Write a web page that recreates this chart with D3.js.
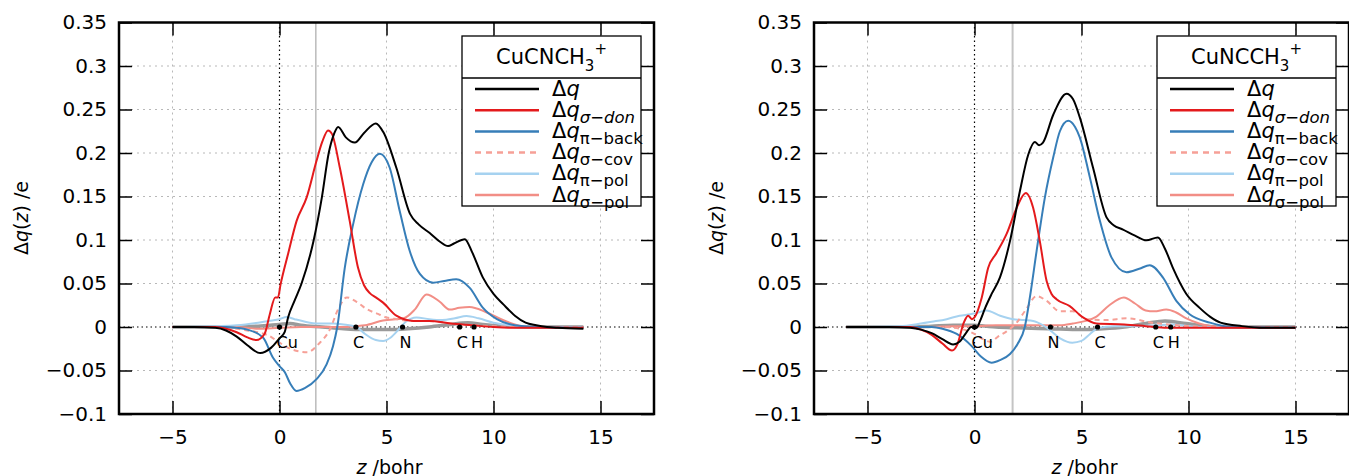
<!DOCTYPE html>
<html>
<head>
<meta charset="utf-8">
<script src="https://cdn.jsdelivr.net/npm/d3@7"></script>
<style>
body{margin:0;background:#fff}
text{font-family:"DejaVu Sans",sans-serif}
</style>
</head>
<body>
<svg id="chart" width="1349" height="476"></svg>
<script>
// ticks
let xTicks=[-5,0,5,10,15];
let yTicks=[-0.1,-0.05,0,0.05,0.1,0.15,0.2,0.25,0.3,0.35];
let yTickLabels=["\u22120.1","\u22120.05","0","0.05","0.1","0.15","0.2","0.25","0.3","0.35"];

// legend
let legendSubs=["","\u03c3\u2212don","\u03c0\u2212back","\u03c3\u2212cov","\u03c0\u2212pol","\u03c3\u2212pol"];

// CuCNCH3+ (left)
let leftDq=[[-5,0],[-4,0],[-3,-0.001],[-2.5,-0.004],[-2,-0.011],[-1.5,-0.021],[-0.9,-0.030],[-0.4,-0.024],[0,-0.013],[0.24,-0.006],[0.4,0.011],[0.7,0.03],[1.03,0.05],[1.6,0.1],[1.98,0.149],[2.3,0.2],[2.55,0.222],[2.74,0.230],[3.1,0.218],[3.52,0.212],[3.95,0.223],[4.5,0.234],[4.85,0.224],[5.46,0.183],[6.1,0.13],[6.5,0.118],[7.02,0.108],[7.5,0.098],[7.88,0.093],[8.15,0.096],[8.66,0.101],[9.0,0.086],[9.5,0.057],[10.0,0.038],[10.46,0.026],[11,0.013],[11.5,0.005],[12,0.002],[12.5,0.0],[13,-0.001],[14.2,-0.002]];
let leftDon=[[-5,0],[-3,0],[-2.5,-0.002],[-2,-0.006],[-1.5,-0.012],[-1.08,-0.015],[-0.7,-0.008],[-0.45,0.015],[-0.2,0.034],[-0.07,0.034],[0.05,0.049],[0.4,0.084],[0.8,0.122],[1.27,0.149],[1.73,0.191],[2.0,0.213],[2.27,0.226],[2.45,0.222],[2.82,0.183],[3.28,0.122],[3.67,0.068],[3.95,0.048],[4.22,0.039],[4.5,0.034],[4.84,0.028],[5.46,0.013],[6.26,0.007],[7,0.007],[8,0.004],[9,0.002],[10,0.0],[11,-0.001],[14.2,-0.001]];
let leftBack=[[-5,0],[-2.5,0],[-2,-0.001],[-1.5,-0.003],[-0.77,-0.012],[-0.31,-0.035],[0,-0.045],[0.25,-0.052],[0.5,-0.065],[0.79,-0.0735],[1.2,-0.070],[1.73,-0.060],[2.2,-0.043],[2.5,-0.022],[2.7,0],[3.05,0.068],[3.44,0.118],[3.91,0.164],[4.3,0.189],[4.69,0.199],[5.15,0.183],[5.62,0.133],[6.09,0.087],[6.56,0.061],[7.18,0.051],[7.7,0.053],[8.26,0.055],[8.89,0.045],[9.51,0.022],[10.16,0.009],[11,0.002],[12,0],[14.2,-0.001]];
let leftCov=[[-5,0],[-2.5,0],[-2,-0.002],[-1.5,-0.004],[-1,-0.006],[-0.5,-0.010],[0,-0.018],[0.5,-0.025],[0.9,-0.028],[1.3,-0.029],[1.85,-0.019],[2.35,-0.003],[2.75,0.021],[3.15,0.034],[3.6,0.029],[4.05,0.021],[4.6,0.015],[5.0,0.011],[5.5,0.009],[6.2,0.007],[7,0.007],[8,0.004],[9,0.002],[10,0.001],[11,0],[14.2,0]];
let leftPiPol=[[-5,0],[-3,0.001],[-2,0.002],[-1,0.005],[-0.5,0.007],[0,0.009],[0.33,0.0115],[0.7,0.009],[1.2,0.006],[1.8,0.004],[2.5,0.004],[3.0,0.003],[3.6,0.0],[4.0,-0.008],[4.5,-0.015],[4.84,-0.016],[5.2,-0.012],[5.6,-0.002],[5.9,0.006],[6.4,0.011],[7,0.009],[7.6,0.008],[8.2,0.010],[8.74,0.0126],[9.3,0.010],[10,0.005],[10.8,0.002],[12,0],[14.2,0]];
let leftSigPol=[[-5,0],[-2,0],[-1,-0.002],[0,-0.001],[1,0],[3,0],[3.5,0.001],[4,0.002],[4.84,0.0075],[5.8,0.01],[6.32,0.02],[6.87,0.0375],[7.49,0.029],[7.95,0.020],[8.4,0.022],[8.88,0.023],[9.66,0.017],[10.44,0.008],[11,0.003],[11.7,0.0],[14.2,0]];
let leftGrey=[[-5,0],[-2,0],[-1,0.001],[0,0.003],[0.5,0.004],[1,0.002],[2,0],[3,-0.002],[4,-0.003],[5,-0.003],[6,-0.002],[7,0],[8,0.003],[8.8,0.005],[9.5,0.003],[10.5,0.001],[11.5,0],[14.2,0]];
let leftAtoms=[["Cu",0],["C",3.57],["N",5.75],["C",8.42],["H",9.09]];

// CuNCCH3+ (right)
let rightDq=[[-6,0],[-4,0],[-3,-0.001],[-2.5,-0.003],[-2,-0.007],[-1.5,-0.014],[-1.0,-0.020],[-0.7,-0.017],[-0.4,-0.007],[-0.15,0.0],[0.1,-0.001],[0.26,0.007],[0.5,0.022],[0.8,0.038],[1.19,0.057],[1.66,0.099],[2.12,0.156],[2.51,0.198],[2.82,0.2126],[3.02,0.209],[3.2,0.212],[3.68,0.244],[4.3,0.268],[4.6,0.262],[4.92,0.241],[5.54,0.183],[6.17,0.126],[6.5,0.117],[6.94,0.112],[7.5,0.105],[8.03,0.0996],[8.57,0.103],[8.9,0.09],[9.27,0.068],[9.9,0.038],[10.52,0.022],[11,0.012],[11.5,0.005],[12.5,0.001],[13.5,-0.001],[15,-0.001]];
let rightDon=[[-6,0],[-3,0],[-2.5,-0.003],[-2,-0.009],[-1.5,-0.019],[-1.05,-0.027],[-0.8,-0.02],[-0.5,0.005],[-0.3,0.013],[-0.12,0.009],[0.0,0.011],[0.34,0.034],[0.64,0.068],[1.03,0.085],[1.5,0.107],[1.97,0.137],[2.4,0.154],[2.74,0.137],[3.05,0.099],[3.37,0.053],[3.6,0.038],[3.83,0.032],[4.45,0.024],[5.07,0.011],[5.7,0.004],[7,0.003],[8,0.001],[9,-0.001],[15,-0.001]];
let rightBack=[[-6,0],[-2,0],[-1.5,-0.002],[-0.83,-0.008],[-0.13,-0.022],[0.3,-0.034],[0.8,-0.041],[1.2,-0.038],[1.66,-0.031],[2.0,-0.020],[2.35,0],[2.6,0.036],[2.9,0.087],[3.29,0.149],[3.68,0.195],[3.99,0.225],[4.38,0.237],[4.7,0.23],[4.92,0.218],[5.39,0.172],[5.86,0.122],[6.4,0.080],[7.1,0.063],[7.7,0.067],[8.19,0.071],[8.8,0.057],[9.43,0.030],[10.05,0.0146],[11,0.005],[12,0.0],[15,-0.001]];
let rightCov=[[-6,0],[-1.5,0],[-0.5,-0.003],[0,-0.008],[0.4,-0.014],[0.75,-0.017],[1.1,-0.011],[1.5,-0.005],[1.97,0.005],[2.43,0.021],[2.9,0.0356],[3.37,0.030],[3.99,0.018],[4.6,0.018],[5.23,0.009],[6.17,0.008],[7.1,0.010],[8.3,0.005],[9.5,0.002],[11,0],[15,0]];
let rightPiPol=[[-6,0],[-3.5,0.001],[-2.5,0.004],[-2,0.006],[-1.3,0.009],[-0.7,0.013],[-0.2,0.0146],[0.1,0.016],[0.55,0.019],[1.2,0.013],[1.81,0.009],[2.3,0.008],[2.74,0.007],[3.2,0.002],[3.5,-0.003],[4.0,-0.013],[4.57,-0.018],[5.0,-0.016],[5.4,-0.008],[5.8,-0.001],[6.5,0.001],[7.5,0.001],[8.5,0.002],[9.2,0.003],[10,0.001],[11,0],[15,0]];
let rightSigPol=[[-6,0],[-2,0],[-1,0.001],[0,0.001],[1,0.002],[4,0.002],[4.6,0.004],[5.2,0.007],[5.7,0.012],[6.3,0.025],[6.98,0.034],[7.5,0.027],[8.0,0.019],[8.4,0.018],[8.96,0.020],[9.4,0.017],[9.9,0.01],[10.5,0.004],[11.5,0],[15,0]];
let rightGrey=[[-6,0],[-3,0],[-2,0.001],[-1,0.002],[0,0.002],[0.5,0.001],[1,0],[2,-0.001],[3.5,-0.002],[5,-0.003],[6,-0.002],[7,0],[8,0.004],[8.9,0.007],[9.6,0.005],[10.5,0.002],[11.5,0],[15,0]];
let rightAtoms=[["Cu",0],["N",3.55],["C",5.75],["C",8.47],["H",9.17]];

let colors=["#000000","#e41a1c","#377eb8","#f6a097","#a6d2f0","#f28e86"];

let svg=d3.select("#chart");

function drawPanel(p){
  let top=22.5,bottom=414,width=535;
  let xScale=d3.scaleLinear().domain([-7.5,17.5]).range([p.left,p.left+width]);
  let yScale=d3.scaleLinear().domain([-0.1,0.35]).range([bottom,top]);
  let g=svg.append("g");

  // grid
  g.append("g").selectAll("line").data(xTicks.filter(d=>d!==0)).enter().append("line")
    .attr("x1",d=>xScale(d)).attr("x2",d=>xScale(d)).attr("y1",top).attr("y2",bottom)
    .attr("stroke","#b8b8b8").attr("stroke-width",1).attr("stroke-dasharray","2,4");
  g.append("g").selectAll("line").data(yTicks.filter(d=>d!==0)).enter().append("line")
    .attr("x1",p.left).attr("x2",p.left+width).attr("y1",d=>yScale(d)).attr("y2",d=>yScale(d))
    .attr("stroke","#b8b8b8").attr("stroke-width",1).attr("stroke-dasharray","2,4");

  // zero lines
  g.append("line").attr("x1",xScale(0)).attr("x2",xScale(0)).attr("y1",top).attr("y2",bottom)
    .attr("stroke","#000").attr("stroke-width",1.2).attr("stroke-dasharray","1.5,3");
  g.append("line").attr("x1",p.left).attr("x2",p.left+width).attr("y1",yScale(0)).attr("y2",yScale(0))
    .attr("stroke","#000").attr("stroke-width",1.2).attr("stroke-dasharray","1.5,3");

  // marker line
  g.append("line").attr("x1",xScale(p.mark)).attr("x2",xScale(p.mark)).attr("y1",top).attr("y2",bottom)
    .attr("stroke",p.markColor).attr("stroke-width",p.markWidth);

  let line=d3.line().x(d=>xScale(d[0])).y(d=>yScale(d[1])).curve(d3.curveMonotoneX);

  g.append("path").attr("d",line(p.grey)).attr("fill","none").attr("stroke","#9a9a9a").attr("stroke-width",3.5);

  let order=[5,4,3,2,1,0];
  order.forEach(function(i){
    g.append("path").attr("d",line(p.series[i])).attr("fill","none")
      .attr("stroke",colors[i]).attr("stroke-width",2)
      .attr("stroke-dasharray",i===3?"5,4":null);
  });

  // atoms
  g.append("g").selectAll("circle").data(p.atoms).enter().append("circle")
    .attr("cx",d=>xScale(d[1])).attr("cy",yScale(0)).attr("r",2.6).attr("fill","#000");
  g.append("g").selectAll("text").data(p.atoms).enter().append("text")
    .attr("x",d=>xScale(d[1])-3).attr("y",yScale(0)+20.5)
    .attr("font-size","16px").text(d=>d[0]);

  // frame
  g.append("rect").attr("x",p.left).attr("y",top).attr("width",width).attr("height",bottom-top)
    .attr("fill","none").attr("stroke","#000").attr("stroke-width",2.5);

  // axes
  let ax=g.append("g").attr("transform","translate(0,"+bottom+")")
    .call(d3.axisBottom(xScale).tickValues(xTicks).tickSize(-13).tickPadding(16).tickFormat(d3.format("d")));
  let ay=g.append("g").attr("transform","translate("+p.left+",0)")
    .call(d3.axisLeft(yScale).tickValues(yTicks).tickSize(-13).tickPadding(12)
      .tickFormat((d,i)=>yTickLabels[i]));
  let at=g.append("g").attr("transform","translate(0,"+top+")")
    .call(d3.axisTop(xScale).tickValues(xTicks).tickSize(-13).tickFormat(""));
  let ar=g.append("g").attr("transform","translate("+(p.left+width)+",0)")
    .call(d3.axisRight(yScale).tickValues(yTicks).tickSize(-13).tickFormat(""));
  [ax,ay,at,ar].forEach(function(a){
    a.select(".domain").remove();
    a.selectAll(".tick line").attr("stroke","#000").attr("stroke-width",1.5);
    a.selectAll("text").attr("font-family","DejaVu Sans").attr("font-size","20px").attr("fill","#000");
  });

  // axis titles
  let yt=g.append("text").attr("transform","translate("+(p.left-91)+",218) rotate(-90)")
    .attr("text-anchor","middle").attr("font-size","19px");
  yt.append("tspan").text("\u0394");
  yt.append("tspan").attr("font-style","italic").text("q");
  yt.append("tspan").text("(");
  yt.append("tspan").attr("font-style","italic").text("z");
  yt.append("tspan").text(") /e");
  let xt=g.append("text").attr("x",xScale(5)+3).attr("y",474)
    .attr("text-anchor","middle").attr("font-size","19px");
  xt.append("tspan").attr("font-style","italic").text("z");
  xt.append("tspan").text(" /bohr");

  // legend
  let lg=g.append("g").attr("transform","translate("+p.legendX+",36)");
  lg.append("rect").attr("width",179).attr("height",170).attr("fill","#fff")
    .attr("stroke","#000").attr("stroke-width",1.3);
  lg.append("line").attr("x1",0).attr("x2",179).attr("y1",42).attr("y2",42)
    .attr("stroke","#000").attr("stroke-width",1.3);
  let tt=lg.append("text").attr("x",89.5).attr("y",28).attr("text-anchor","middle").attr("font-size","21px");
  tt.append("tspan").text(p.title);
  tt.append("tspan").attr("font-size","15px").attr("dy",7).text("3");
  tt.append("tspan").attr("font-size","15px").attr("dy",-17).text("+");

  legendSubs.forEach(function(s,i){
    let yy=53+i*21.2;
    lg.append("line").attr("x1",13).attr("x2",77).attr("y1",yy).attr("y2",yy)
      .attr("stroke",colors[i]).attr("stroke-width",2.5)
      .attr("stroke-dasharray",i===3?"6,5":null);
    let t=lg.append("text").attr("x",90).attr("y",yy+6.5).attr("font-size","21px");
    t.append("tspan").text("\u0394");
    t.append("tspan").attr("font-style","italic").text("q");
    if(s){
      t.append("tspan").attr("dy",6).attr("font-size","16.5px")
        .attr("font-style",i===1?"italic":null).text(s);
    }
  });
}

drawPanel({left:119,title:"CuCNCH",legendX:462,mark:1.7,markColor:"#999",markWidth:1,
  series:[leftDq,leftDon,leftBack,leftCov,leftPiPol,leftSigPol],grey:leftGrey,atoms:leftAtoms});
drawPanel({left:814,title:"CuNCCH",legendX:1157,mark:1.78,markColor:"#c4c4c4",markWidth:2,
  series:[rightDq,rightDon,rightBack,rightCov,rightPiPol,rightSigPol],grey:rightGrey,atoms:rightAtoms});
</script>
</body>
</html>
